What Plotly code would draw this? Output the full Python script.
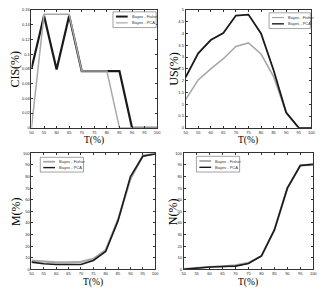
import plotly.graph_objects as go

T = [50, 55, 60, 65, 70, 75, 80, 85, 90, 95, 100]

cis_fisher = [0.080, 0.152, 0.079, 0.152, 0.077, 0.077, 0.077, 0.077, 0.0, 0.0, 0.0]
cis_pca = [0.0, 0.154, 0.154, 0.154, 0.077, 0.077, 0.077, 0.0, 0.0, 0.0, 0.0]

us_fisher = [1.2, 2.03, 2.5, 2.93, 3.45, 3.6, 3.13, 2.17, 0.65, 0.0, 0.0]
us_pca = [2.14, 3.16, 3.72, 4.02, 4.76, 4.8, 4.0, 2.44, 0.65, 0.0, 0.0]

m_fisher = [7.5, 6.5, 6.0, 6.0, 6.5, 9.0, 16.5, 43.0, 78.0, 98.0, 100.0]
m_pca = [6.2, 4.8, 4.2, 4.2, 4.2, 7.6, 15.4, 42.0, 80.0, 97.5, 99.4]

n_fisher = [0.3, 1.3, 2.0, 2.6, 3.5, 5.5, 11.5, 34.0, 70.0, 89.5, 90.5]
n_pca = [0.0, 1.3, 2.0, 2.5, 2.8, 5.0, 11.5, 34.0, 70.0, 89.5, 90.5]

x_ticks = [50, 55, 60, 65, 70, 75, 80, 85, 90, 95, 100]
cis_ticks = [0, 0.02, 0.04, 0.06, 0.08, 0.1, 0.12, 0.14, 0.16]
us_ticks = [0, 0.5, 1, 1.5, 2, 2.5, 3, 3.5, 4, 4.5, 5]
pct_ticks = [0, 10, 20, 30, 40, 50, 60, 70, 80, 90, 100]

series_names = ["Bayes - Fisher", "Bayes - PCA"]

BLACK = "#1a1a1a"
GRAY = "#a8a8a8"
SERIF = "Liberation Serif"
W = 332.0
H = 290.0

fig = go.Figure()

panels = [
    ("x", "y", cis_fisher, cis_pca, (BLACK, 2.2), (GRAY, 1.5)),
    ("x2", "y2", us_fisher, us_pca, (GRAY, 1.6), (BLACK, 1.8)),
    ("x3", "y3", m_fisher, m_pca, (GRAY, 2.2), (BLACK, 1.6)),
    ("x4", "y4", n_fisher, n_pca, (GRAY, 2.2), (BLACK, 1.6)),
]

for xa, ya, fis, pca, fs, ps in panels:
    fig.add_trace(go.Scatter(x=T, y=fis, xaxis=xa, yaxis=ya, mode="lines",
                             line=dict(color=fs[0], width=fs[1]),
                             name=series_names[0], showlegend=False))
    fig.add_trace(go.Scatter(x=T, y=pca, xaxis=xa, yaxis=ya, mode="lines",
                             line=dict(color=ps[0], width=ps[1]),
                             name=series_names[1], showlegend=False))

# pixel boxes of the plot areas: (left, right, top, bottom), y-title offset
boxes = {
    "x": ((30, 158, 7, 127), 17),
    "x2": ((187, 315, 7, 127), 12),
    "x3": ((30, 156, 153, 271), 15),
    "x4": ((185, 317, 153, 271), 10),
}

def dom(b):
    l, r, t, bt = b
    return [l / W, r / W], [1 - bt / H, 1 - t / H]

tickfont = dict(family="Liberation Sans", size=4, color="#222")
xtitlefont = dict(family=SERIF, size=9.5, color="#000000")
ytitlefont = dict(family=SERIF, size=12, color="#000000")

def xax(d, anchor):
    return dict(domain=d, anchor=anchor, range=[50, 100], tickvals=x_ticks,
                ticks="inside", ticklen=2, tickcolor="#333", mirror="allticks",
                showline=True, linecolor="#333", linewidth=0.8, showgrid=False,
                zeroline=False, tickfont=tickfont)

def yax(d, anchor, rng, tv):
    return dict(domain=d, anchor=anchor, range=rng, tickvals=tv,
                ticks="inside", ticklen=2, tickcolor="#333", mirror="allticks",
                showline=True, linecolor="#333", linewidth=0.8, showgrid=False,
                zeroline=False, tickfont=tickfont)

layout = dict(width=332, height=290, margin=dict(l=0, r=0, t=0, b=0),
              paper_bgcolor="white", plot_bgcolor="white", showlegend=False)
yinfo = {"x": ([0, 0.16], cis_ticks, "CIS(%)"), "x2": ([0, 5], us_ticks, "US(%)"),
         "x3": ([0, 100], pct_ticks, "M(%)"), "x4": ([0, 100], pct_ticks, "N(%)")}

annotations = []
shapes = []
for k, (b, yoff) in boxes.items():
    suf = k[1:]
    dx, dy = dom(b)
    layout["xaxis" + suf] = xax(dx, "y" + suf)
    rng, tv, ttl = yinfo[k]
    layout["yaxis" + suf] = yax(dy, "x" + suf, rng, tv)
    l, r, t, bt = b
    annotations.append(dict(text="T(%)", x=(l + r) / 2 / W, y=1 - (bt + 6.5) / H,
                            xref="paper", yref="paper", showarrow=False, borderpad=0,
                            xanchor="center", yanchor="top", font=xtitlefont))
    annotations.append(dict(text=ttl, x=(l - yoff) / W, y=1 - (t + bt) / 2 / H,
                            xref="paper", yref="paper", showarrow=False, textangle=-90,
                            xanchor="center", yanchor="middle", font=ytitlefont))

# legend boxes (pixels): left, right, top, bottom, and style of each entry
legends = [
    ((113, 157, 9, 25), [(BLACK, 2.0), (GRAY, 1.2)]),
    ((272, 314, 10, 26), [(GRAY, 1.2), (BLACK, 1.4)]),
    ((39, 83, 157, 172), [(GRAY, 1.8), (BLACK, 1.4)]),
    ((198, 242, 156, 172), [(GRAY, 1.8), (BLACK, 1.4)]),
]
for (l, r, t, bt), styles in legends:
    shapes.append(dict(type="rect", xref="paper", yref="paper",
                       x0=l / W, x1=r / W, y0=1 - bt / H, y1=1 - t / H,
                       line=dict(color="#666", width=0.6), fillcolor="white"))
    hgt = bt - t
    for i, (col, wd) in enumerate(styles):
        yy = t + hgt * (0.3 + 0.4 * i)
        shapes.append(dict(type="line", xref="paper", yref="paper",
                           x0=(l + 3) / W, x1=(l + 15) / W, y0=1 - yy / H, y1=1 - yy / H,
                           line=dict(color=col, width=wd)))
        annotations.append(dict(text=series_names[i], x=(l + 17) / W, y=1 - yy / H,
                                xref="paper", yref="paper", showarrow=False,
                                xanchor="left", yanchor="middle",
                                font=dict(family="Liberation Sans", size=4, color="#333")))

layout["annotations"] = annotations
layout["shapes"] = shapes
fig.update_layout(**layout)

fig.write_html("out.html", config={"displayModeBar": False},
               post_script="document.body.style.margin='0';document.body.style.padding='0';")
